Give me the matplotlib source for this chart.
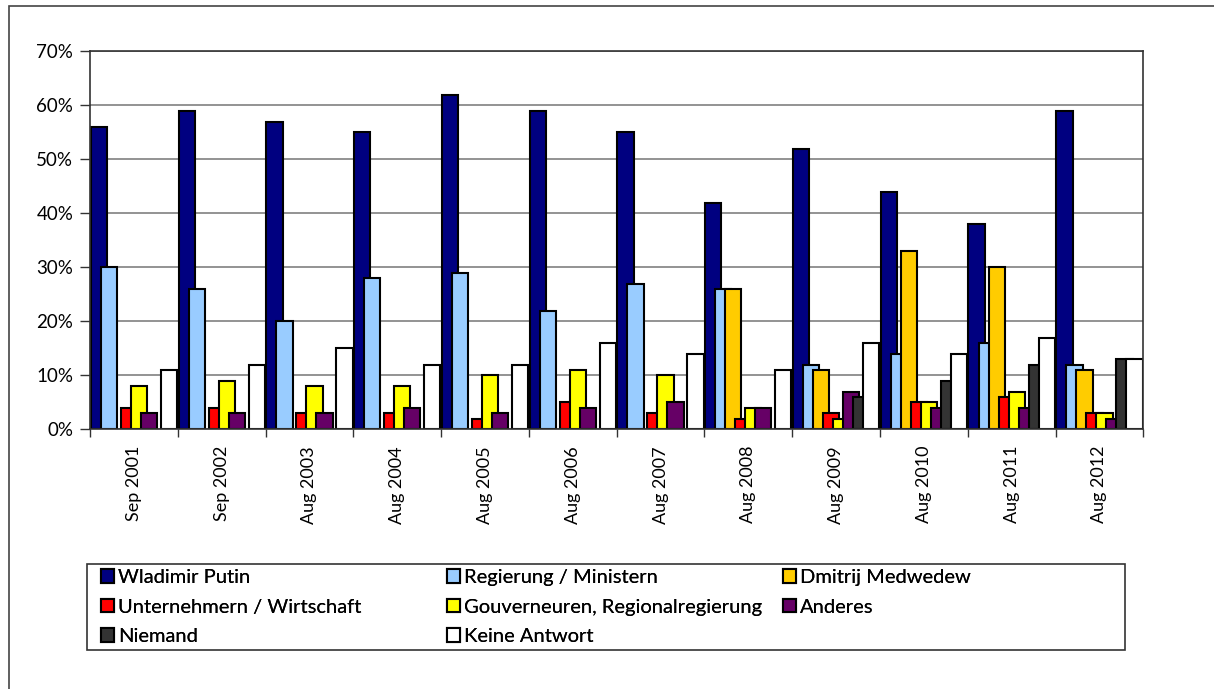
import numpy as np
import matplotlib
matplotlib.use("Agg")
import matplotlib.pyplot as plt
from matplotlib.patches import Rectangle
from matplotlib.ticker import FixedLocator, NullFormatter, FuncFormatter

plt.rcParams['font.family'] = ['Lato', 'DejaVu Sans']

categories = ["Sep 2001", "Sep 2002", "Aug 2003", "Aug 2004", "Aug 2005", "Aug 2006",
              "Aug 2007", "Aug 2008", "Aug 2009", "Aug 2010", "Aug 2011", "Aug 2012"]

series_names = ["Wladimir Putin", "Regierung / Ministern", "Dmitrij Medwedew",
                "Unternehmern / Wirtschaft", "Gouverneuren, Regionalregierung", "Anderes",
                "Niemand", "Keine Antwort"]

nan = np.nan
putin        = [56, 59, 57, 55, 62, 59, 55, 42, 52, 44, 38, 59]
regierung    = [30, 26, 20, 28, 29, 22, 27, 26, 12, 14, 16, 12]
medwedew     = [nan, nan, nan, nan, nan, nan, nan, 26, 11, 33, 30, 11]
unternehmern = [4, 4, 3, 3, 2, 5, 3, 2, 3, 5, 6, 3]
gouverneuren = [8, 9, 8, 8, 10, 11, 10, 4, 2, 5, 7, 3]
anderes      = [3, 3, 3, 4, 3, 4, 5, 4, 7, 4, 4, 2]
niemand      = [nan, nan, nan, nan, nan, nan, nan, nan, 6, 9, 12, 13]
keine        = [11, 12, 15, 12, 12, 16, 14, 11, 16, 14, 17, 13]

series = [putin, regierung, medwedew, unternehmern, gouverneuren, anderes, niemand, keine]
colors = ["#000080", "#99CCFF", "#FFCC00", "#FF0000", "#FFFF00", "#660066", "#333333", "#FFFFFF"]

W, H = 1214, 689
fig = plt.figure(figsize=(W / 100, H / 100), dpi=100)

# outer frame (chart area border, cut off on right and bottom)
fig.patches.append(Rectangle((9 / W, -0.05), 1.2, 1 - 6 / H + 0.05, transform=fig.transFigure,
                             fill=False, edgecolor="#444444", linewidth=1.2))

ax = fig.add_axes([90 / W, 1 - 429.3 / H, (1143.3 - 90) / W, (429.3 - 51.3) / H])

x = np.arange(len(categories))
step = 0.114
width = 0.185
handles = []
for k, (vals, col) in enumerate(zip(series, colors)):
    v = np.array(vals, dtype=float)
    m = ~np.isnan(v)
    b = ax.bar(x[m] + (k - 3.5) * step, v[m] / 100.0, width=width, color=col,
               edgecolor="black", linewidth=1.5, zorder=2 + k * 0.01, label=series_names[k])
    handles.append(b)

ax.set_xlim(-0.5, len(categories) - 0.5)
ax.set_ylim(0, 0.70)
ax.set_yticks(np.arange(0, 0.71, 0.1))
ax.yaxis.set_major_formatter(FuncFormatter(lambda v, p: f"{v*100:.0f}%"))
ax.grid(axis="y", color="#808080", linewidth=1.2, zorder=0)
ax.set_axisbelow(True)

# category ticks at boundaries, labels at centres
ax.xaxis.set_major_locator(FixedLocator(np.arange(-0.5, len(categories), 1.0)))
ax.xaxis.set_major_formatter(NullFormatter())
ax.xaxis.set_minor_locator(FixedLocator(x))
ax.set_xticklabels(categories, minor=True, rotation=90, fontsize=13)
ax.tick_params(axis="x", which="minor", length=0, pad=12)
ax.tick_params(axis="x", which="major", length=6, width=1, color="#333333")
ax.tick_params(axis="y", length=7, width=1, color="#333333", labelsize=13.5, pad=5)

for s in ["left", "bottom", "top", "right"]:
    ax.spines[s].set_color("#333333")
    ax.spines[s].set_linewidth(1.2)

# legend box
fig.patches.append(Rectangle((87 / W, 1 - 650 / H), (1125 - 87) / W, (650 - 564) / H,
                             transform=fig.transFigure, fill=False, edgecolor="#333333",
                             linewidth=1.2))
col_groups = [[0, 3, 6], [1, 4, 7], [2, 5]]
col_x = [97, 443, 779]
for cx, grp in zip(col_x, col_groups):
    leg = fig.legend([handles[i] for i in grp], [series_names[i] for i in grp],
                     loc="upper left", bbox_to_anchor=(cx / W, 1 - 565 / H),
                     frameon=False, fontsize=14.5, handlelength=0.66, handleheight=0.66,
                     handletextpad=0.2, labelspacing=0.62, borderpad=0.2, borderaxespad=0)
    fig.add_artist(leg)

fig.savefig("out.png", dpi=100)
